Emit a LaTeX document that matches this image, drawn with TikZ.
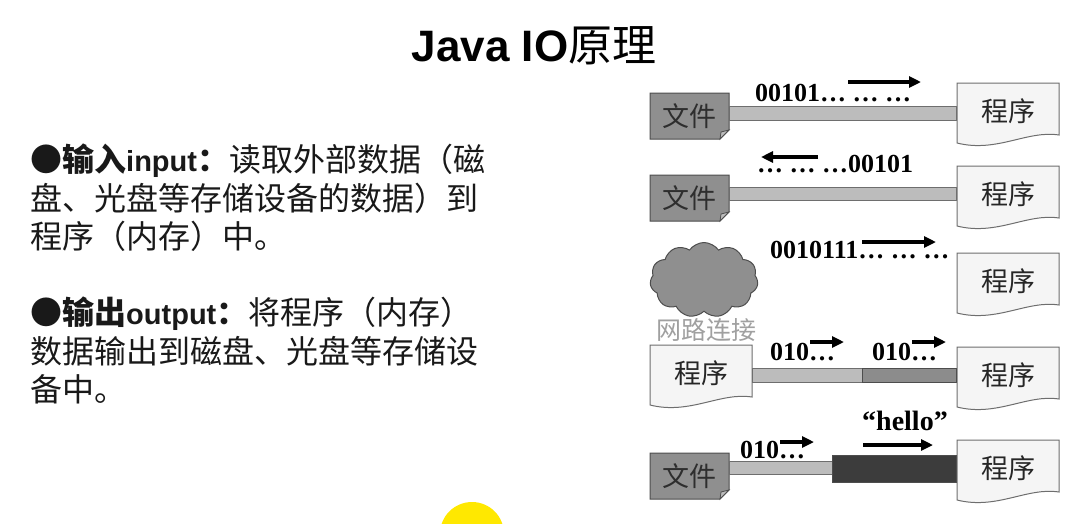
\documentclass[tikz,border=0pt]{standalone}
\usepackage{fontspec}
\setmainfont{Liberation Serif}
\newfontfamily\cjk{Noto Sans CJK SC}
\newfontfamily\arialf{Liberation Sans}
\usetikzlibrary{shapes.symbols,arrows.meta}
\pgfdeclarelayer{bg}
\pgfsetlayers{bg,main}
\definecolor{filefill}{HTML}{8F8F8F}
\definecolor{filedraw}{HTML}{4D4D4D}
\definecolor{filetxt}{HTML}{2E2E2E}
\definecolor{progfill}{HTML}{F5F5F5}
\definecolor{progdraw}{HTML}{6E6E6E}
\definecolor{barlightc}{HTML}{BCBCBC}
\definecolor{bardarkc}{HTML}{5E5E5E}
\definecolor{barmidc}{HTML}{8C8C8C}
\definecolor{barblackc}{HTML}{3C3C3C}
\definecolor{netgray}{HTML}{A0A0A0}
\definecolor{hilite}{HTML}{FFE800}
\newcommand\latb[1]{{\arialf\bfseries\fontsize{29}{38}\selectfont #1}}
\tikzset{
  filedoc/.style={fill=filefill, draw=filedraw, line width=1pt},
  foldtri/.style={fill=filefill!60!white, draw=filedraw, line width=0.8pt},
  progdoc/.style={fill=progfill, draw=progdraw, line width=1pt},
  boxtext/.style={inner sep=0pt, font=\cjk\fontsize{27}{30}\selectfont},
  filetext/.style={boxtext, minimum width=79pt, minimum height=46pt, text=filetxt},
  progtext/.style={boxtext, minimum width=102pt, minimum height=56pt, text=black!85},
  barlight/.style={fill=barlightc, draw=progdraw, line width=0.8pt},
  bardark/.style={fill=bardarkc, draw=filedraw, line width=0.8pt},
  barmid/.style={fill=barmidc, draw=filedraw, line width=0.8pt},
  barblack/.style={fill=barblackc, draw=filedraw, line width=0.8pt},
  bits/.style={anchor=base west, inner sep=0pt, font=\bfseries\fontsize{26}{30}\selectfont},
  flow/.style={line width=3.4pt, -{Triangle[length=12pt,width=11pt]}},
  bodyline/.style={anchor=base west, inner sep=0pt, font=\cjk\fontsize{32}{38}\selectfont, text=black!90},
  netcloud/.style={cloud, cloud puffs=11, cloud puff arc=110, aspect=1.45, fill=filefill, draw=filedraw, line width=1pt, minimum width=108pt, minimum height=75pt, inner sep=0pt}
}
\newcommand\progbox[3]{%
  \begin{scope}[shift={(#2,#3)}]
    \draw[progdoc] (0,0) -- (102,0) -- (102,52) .. controls (70,47) and (40,70) .. (0,60) -- cycle;
    \node[progtext] (#1) at (51,28) {程序};
  \end{scope}}
\newcommand\filebox[3]{%
  \begin{scope}[shift={(#2,#3)}]
    \draw[filedoc] (0,0) -- (79,0) -- (79,37) -- (70,46) -- (0,46) -- cycle;
    \draw[foldtri] (79,37) -- (71,39) -- (70,46) -- cycle;
    \node[filetext] (#1) at (39.5,23) {文件};
  \end{scope}}
\begin{document}
\begin{tikzpicture}[x=1pt,y=-1pt]
\useasboundingbox[fill=white] (0,0) rectangle (1083,523);

% title
\node[inner sep=0pt, anchor=base] (title) at (534,61) {\fontsize{44}{48}\selectfont\arialf\bfseries Java IO\cjk\mdseries 原理};

% left text
\node[bodyline] (l1) at (30,171) {{\bfseries ●输入\latb{input}：}读取外部数据（磁};
\node[bodyline] (l2) at (30,210) {盘、光盘等存储设备的数据）到};
\node[bodyline] (l3) at (30,248) {程序（内存）中。};
\node[bodyline] (l4) at (30,324) {{\bfseries ●输出\latb{output}：}将程序（内存）};
\node[bodyline] (l5) at (30,363) {数据输出到磁盘、光盘等存储设};
\node[bodyline] (l6) at (30,401) {备中。};

% bar coordinates
\coordinate (b1t) at (0,106); \coordinate (b1b) at (0,120);
\coordinate (b2t) at (0,187); \coordinate (b2b) at (0,200);
\coordinate (b3t) at (0,269); \coordinate (b3b) at (0,283);
\coordinate (b4t) at (0,368); \coordinate (b4b) at (0,382);
\coordinate (b5t) at (0,461); \coordinate (b5b) at (0,474);
\coordinate (b5T) at (0,455); \coordinate (b5B) at (0,482);
\coordinate (m4) at (862,0);
\coordinate (m5) at (832,0);

% row 1
\filebox{f1}{650}{93}
\progbox{p1}{957}{83}
\draw[barlight] (f1.east |- b1t) rectangle (p1.west |- b1b);
\node[bits] (t1) at (755,101) {00101… … …};
\coordinate (a1s) at (848,82); \coordinate (a1e) at (921,82);
\draw[flow] (a1s) -- (a1e);

% row 2
\filebox{f2}{650}{175}
\progbox{p2}{957}{166}
\draw[barlight] (f2.east |- b2t) rectangle (p2.west |- b2b);
\node[bits] (t2) at (757,172) {… … …00101};
\coordinate (a2s) at (818,157); \coordinate (a2e) at (761,157);
\draw[flow] (a2s) -- (a2e);

% row 3
\node[netcloud] (c3) at (704,280) {};
\progbox{p3}{957}{253}
\begin{pgfonlayer}{bg}
\draw[bardark] (c3.center |- b3t) rectangle (p3.west |- b3b);
\end{pgfonlayer}
\node[bits] (t3) at (770,258) {0010111… … …};
\coordinate (a3s) at (862,242); \coordinate (a3e) at (936,242);
\draw[flow] (a3s) -- (a3e);
\node[inner sep=0pt, text=netgray, font=\cjk\fontsize{25}{28}\selectfont] (net) at (706,330) {网路连接};

% row 4
\progbox{p4l}{650}{345}
\progbox{p4r}{957}{347}
\draw[barlight] (p4l.east |- b4t) rectangle (m4 |- b4b);
\draw[barmid] (m4 |- b4t) rectangle (p4r.west |- b4b);
\node[bits] (t4a) at (770,360) {010…};
\node[bits] (t4b) at (872,360) {010…};
\coordinate (a4s) at (810,342); \coordinate (a4e) at (844,342);
\coordinate (a4S) at (912,342); \coordinate (a4E) at (946,342);
\draw[flow] (a4s) -- (a4e);
\draw[flow] (a4S) -- (a4E);

% row 5
\filebox{f5}{650}{453}
\progbox{p5}{957}{440}
\draw[barlight] (f5.east |- b5t) rectangle (m5 |- b5b);
\draw[barblack] (m5 |- b5T) rectangle (p5.west |- b5B);
\node[bits] (t5a) at (740,458) {010…};
\coordinate (a5s) at (780,442); \coordinate (a5e) at (814,442);
\draw[flow] (a5s) -- (a5e);
\node[bits, font=\bfseries\fontsize{28}{30}\selectfont] (hello) at (862,430) {“hello”};
\coordinate (a5S) at (863,445); \coordinate (a5E) at (933,445);
\draw[flow] (a5S) -- (a5E);

% highlight
\begin{scope}
\clip (0,0) rectangle (1083,523);
\fill[hilite] (472,534) circle (32);
\end{scope}
\end{tikzpicture}
\end{document}
